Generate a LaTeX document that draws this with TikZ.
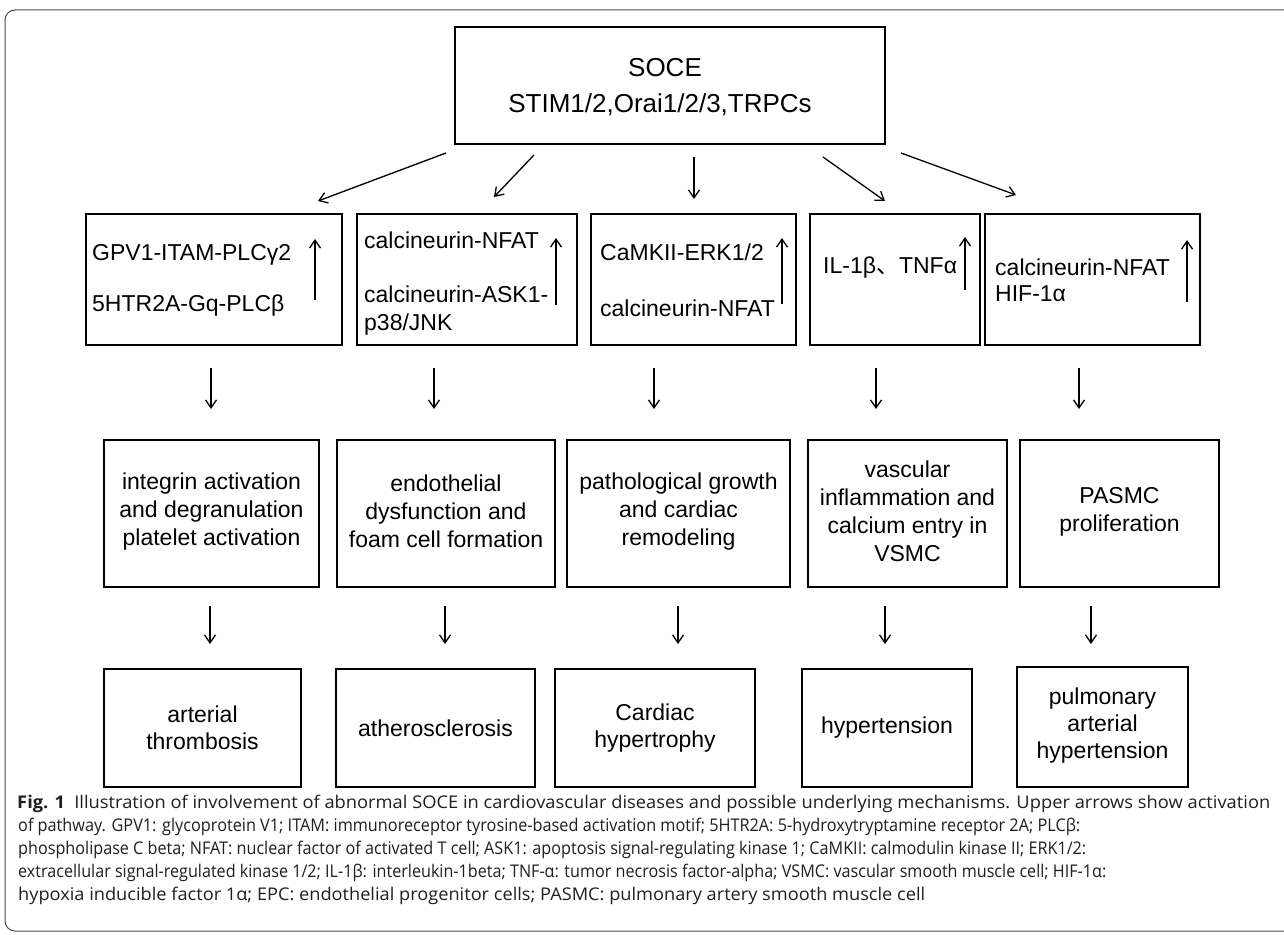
\documentclass[tikz,border=0pt]{standalone}
\usepackage{fontspec}
\setmainfont{Liberation Sans}
\newfontfamily\cjk{Noto Sans CJK SC}
\newfontfamily\capfont[Ligatures=NoCommon]{Open Sans}
\usetikzlibrary{arrows.meta,fit}
\begin{document}
\begin{tikzpicture}[x=1pt,y=-1pt,
  box/.style={draw, line width=1.4pt, inner sep=0pt},
  arr/.style={-{Straight Barb[length=8pt,width=11pt]}, line width=1.3pt},
  rt/.style={anchor=base west, inner sep=0pt, font=\fontsize{23}{28}\selectfont},
  ct/.style={align=center, inner sep=0pt, font=\fontsize{23}{28}\selectfont},
  captext/.style={anchor=base west, inner sep=0pt, font=\capfont\fontsize{17.5}{23}\selectfont, text=black!88}
]
\useasboundingbox (0,0) rectangle (1284,934);
\fill[white] (0,0) rectangle (1284,934);
% outer frame
\draw[line width=1pt, black!70, rounded corners=10pt] (5,931) -- (5,10) -- (1300,10) -- (1300,931) -- cycle;

% top box
\node[box, fit={(455,27) (885,144)}] (top) {};
\node[anchor=base, inner sep=0pt, font=\fontsize{26}{31}\selectfont] (t1) at (665,76) {SOCE};
\node[anchor=base, inner sep=0pt, font=\fontsize{26}{31}\selectfont] (t2) at (660,112) {STIM1/2,Orai1/2/3,TRPCs};

% row 2 boxes
\node[box, fit={(86,214) (342,345)}] (r2a) {};
\node[box, fit={(357,214) (577,345)}] (r2b) {};
\node[box, fit={(591,214) (796,345)}] (r2c) {};
\node[box, fit={(810,214) (980,345)}] (r2d) {};
\node[box, fit={(985,214) (1200,345)}] (r2e) {};

\node[rt] (a1) at (92,260) {GPV1-ITAM-PLCγ2};
\node[rt] (a2) at (92,311) {5HTR2A-Gq-PLCβ};
\node[rt] (b1) at (364,248) {calcineurin-NFAT};
\node[rt] (b2) at (364,302) {calcineurin-ASK1-};
\node[rt] (b3) at (364,330) {p38/JNK};
\node[rt] (c1) at (600,260) {CaMKII-ERK1/2};
\node[rt] (c2) at (600,316) {calcineurin-NFAT};
\node[rt] (d1) at (823,273) {IL-1β{\cjk 、}TNFα};
\node[rt] (e1) at (995,275) {calcineurin-NFAT};
\node[rt] (e2) at (995,301) {HIF-1α};

% up arrows in row 2
\coordinate (ua1) at (315,300); \coordinate (ub1) at (315,239);
\coordinate (ua2) at (556,305); \coordinate (ub2) at (556,238);
\coordinate (ua3) at (782,304); \coordinate (ub3) at (782,238);
\coordinate (ua4) at (965,290); \coordinate (ub4) at (965,237);
\coordinate (ua5) at (1187,302); \coordinate (ub5) at (1187,240);
\foreach \i in {1,...,5} {\draw[arr] (ua\i) -- (ub\i);}

% top arrows
\coordinate (s1) at (446,153); \coordinate (e1c) at (318,201);
\coordinate (s2) at (534,155); \coordinate (e2c) at (494,197);
\coordinate (s3) at (694,157); \coordinate (e3c) at (694,199);
\coordinate (s4) at (823,157); \coordinate (e4c) at (885,201);
\coordinate (s5) at (901,153); \coordinate (e5c) at (1016,195);
\foreach \i in {1,...,5} {\draw[arr] (s\i) -- (e\i c);}

% row 3 boxes
\node[box, fit={(104,440) (319,587)}] (r3a) {};
\node[box, fit={(337,440) (555,587)}] (r3b) {};
\node[box, fit={(567,440) (790,587)}] (r3c) {};
\node[box, fit={(808,440) (1007,587)}] (r3d) {};
\node[box, fit={(1020,440) (1219,587)}] (r3e) {};
\node[ct] at ([yshift=2pt]r3a.center) {integrin activation\\and degranulation\\platelet activation};
\node[ct] at ([yshift=2pt]r3b.center) {endothelial\\dysfunction and\\foam cell formation};
\node[ct] at ([yshift=2pt]r3c.center) {pathological growth\\and cardiac\\remodeling};
\node[ct] at ([yshift=2pt]r3d.center) {vascular\\inflammation and\\calcium entry in\\VSMC};
\node[ct] at ([yshift=2pt]r3e.center) {PASMC\\proliferation};

% row 2 -> row 3 arrows
\foreach \x [count=\i] in {211,434,654,876,1079} {
  \coordinate (m\i s) at (\x,368); \coordinate (m\i e) at (\x,409);
  \draw[arr] (m\i s) -- (m\i e);
}

% row 4 boxes
\node[box, fit={(104,669) (301,787)}] (r4a) {};
\node[box, fit={(336,669) (535,787)}] (r4b) {};
\node[box, fit={(555,669) (755,787)}] (r4c) {};
\node[box, fit={(802,669) (972,787)}] (r4d) {};
\node[box, fit={(1017,667) (1188,787)}] (r4e) {};
\node[ct, font=\fontsize{23}{27}\selectfont] at (r4a.center) {arterial\\thrombosis};
\node[ct, font=\fontsize{23}{27}\selectfont] at (r4b.center) {atherosclerosis};
\node[ct, font=\fontsize{23}{27}\selectfont] at (r4c.center) {Cardiac\\hypertrophy};
\node[ct, font=\fontsize{23}{27}\selectfont] at (r4d.center) {hypertension};
\node[ct, font=\fontsize{23}{27}\selectfont] at ([yshift=1pt]r4e.center) {pulmonary\\arterial\\hypertension};

% row 3 -> row 4 arrows
\foreach \x [count=\i] in {210,445,678,885,1091} {
  \coordinate (n\i s) at (\x,606); \coordinate (n\i e) at (\x,644);
  \draw[arr] (n\i s) -- (n\i e);
}

% caption
\node[captext] (cap1) at (17,808) {\resizebox{1253pt}{\height}{\textbf{Fig. 1}\enspace Illustration of involvement of abnormal SOCE in cardiovascular diseases and possible underlying mechanisms. Upper arrows show activation}};
\node[captext] (cap2) at (18,831) {\resizebox{1062pt}{\height}{of pathway. GPV1: glycoprotein V1; ITAM: immunoreceptor tyrosine-based activation motif; 5HTR2A: 5-hydroxytryptamine receptor 2A; PLCβ:}};
\node[captext] (cap3) at (18,854) {\resizebox{1068pt}{\height}{phospholipase C beta; NFAT: nuclear factor of activated T cell; ASK1: apoptosis signal-regulating kinase 1; CaMKII: calmodulin kinase II; ERK1/2:}};
\node[captext] (cap4) at (18,877) {\resizebox{1088pt}{\height}{extracellular signal-regulated kinase 1/2; IL-1β: interleukin-1beta; TNF-α: tumor necrosis factor-alpha; VSMC: vascular smooth muscle cell; HIF-1α:}};
\node[captext] (cap5) at (18,900) {\resizebox{907pt}{\height}{hypoxia inducible factor 1α; EPC: endothelial progenitor cells; PASMC: pulmonary artery smooth muscle cell}};
\end{tikzpicture}
\end{document}
